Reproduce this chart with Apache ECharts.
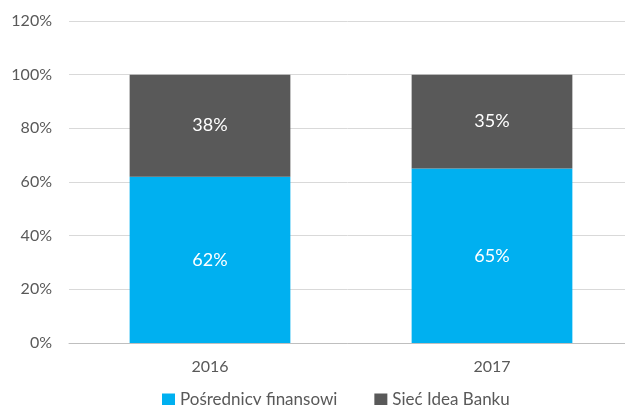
<!DOCTYPE html>
<html><head><meta charset="utf-8">
<script src="https://cdn.jsdelivr.net/npm/echarts@6/dist/echarts.min.js"></script>
<style>html,body{margin:0;padding:0;background:#fff}#c{width:625px;height:405px}</style>
</head><body><div id="c"></div>
<script>
const categories = ['2016', '2017'];
const posrednicy = [62, 65];
const siec = [38, 35];
const seriesNames = ['Pośrednicy finansowi', 'Sieć Idea Banku'];
const yTicks = [0, 20, 40, 60, 80, 100, 120];

const font = 'Lato';
const chart = echarts.init(document.getElementById('c'));
chart.setOption({
  animation: false,
  textStyle: { fontFamily: font },
  grid: { left: 69, width: 564, top: 21, height: 322, outerBoundsMode: 'none', containLabel: false },
  legend: {
    top: 386, left: 157,
    itemWidth: 13, itemHeight: 12, itemGap: 37,
    icon: 'rect',
    textStyle: { fontFamily: font, fontSize: 17, color: '#595959' },
    data: seriesNames
  },
  xAxis: {
    type: 'category', data: categories,
    axisTick: { show: false },
    axisLine: { lineStyle: { color: '#bfbfbf', width: 1 } },
    axisLabel: { color: '#595959', fontSize: 16, margin: 16, fontFamily: font }
  },
  yAxis: {
    type: 'value', min: yTicks[0], max: yTicks[yTicks.length - 1], interval: 20,
    axisLine: { show: false }, axisTick: { show: false },
    splitLine: { lineStyle: { color: '#d9d9d9', width: 1 } },
    axisLabel: { color: '#595959', fontSize: 16, margin: 17, fontFamily: font, formatter: v => v + '%' }
  },
  series: [
    {
      name: seriesNames[0], type: 'bar', stack: 's', data: posrednicy, barWidth: '57%',
      itemStyle: { color: '#00b0f0' },
      label: { show: true, position: 'inside', color: '#fff', fontSize: 18, fontFamily: font, formatter: p => p.value + '%' }
    },
    {
      name: seriesNames[1], type: 'bar', stack: 's', data: siec, barWidth: '57%',
      itemStyle: { color: '#595959' },
      label: { show: true, position: 'inside', color: '#fff', fontSize: 18, fontFamily: font, formatter: p => p.value + '%' }
    }
  ]
});
</script></body></html>
